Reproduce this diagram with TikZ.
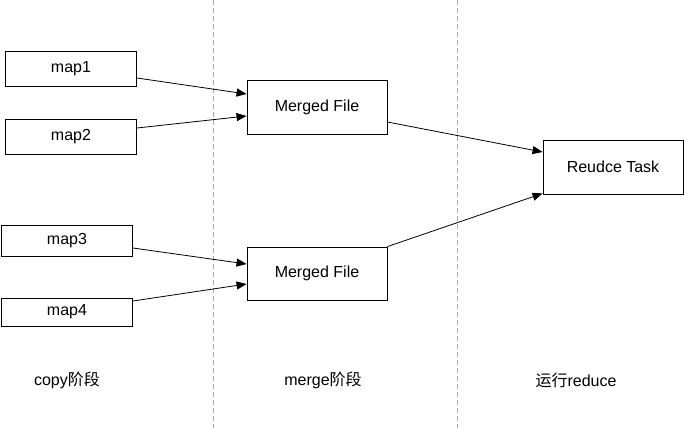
\documentclass[tikz,border=0pt]{standalone}
\usepackage{fontspec}
\setmainfont{Liberation Sans}
\newfontfamily\cjk{Noto Sans CJK SC}
\usetikzlibrary{arrows.meta}
\begin{document}
\begin{tikzpicture}[x=1pt,y=-1pt,
  box/.style={draw=black,line width=0.9pt,inner sep=0pt,fill=white,font=\fontsize{16}{18}\selectfont},
  conn/.style={draw=black,line width=0.8pt,-{Triangle[length=10pt,width=8pt]}},
  divider/.style={draw=gray!70,line width=0.9pt,dash pattern=on 5pt off 3pt},
  stage/.style={font=\fontsize{16}{18}\selectfont,inner sep=0pt}]
\useasboundingbox (0,0) rectangle (684,428);
\coordinate (d1t) at (213,0); \coordinate (d1b) at (213,428);
\coordinate (d2t) at (457,0); \coordinate (d2b) at (457,428);
\draw[divider] (d1t) -- (d1b);
\draw[divider] (d2t) -- (d2b);
\node[box,minimum width=131pt,minimum height=35pt] (map1) at (71,68.5) {map1};
\node[box,minimum width=131pt,minimum height=35pt] (map2) at (71,136.5) {map2};
\node[box,minimum width=131pt,minimum height=31pt] (map3) at (67,240.5) {map3};
\node[box,minimum width=131pt,minimum height=28pt] (map4) at (67,312) {map4};
\node[box,minimum width=140pt,minimum height=54pt] (mf1) at (317,107) {Merged File};
\node[box,minimum width=140pt,minimum height=53pt] (mf2) at (317,273.5) {Merged File};
\node[box,minimum width=140pt,minimum height=54pt] (rt) at (613,167) {Reudce Task};
\draw[conn] ([yshift=-9.5pt]map1.east) -- ([yshift=13pt]mf1.west);
\draw[conn] ([yshift=8.5pt]map2.east) -- ([yshift=-9pt]mf1.west);
\draw[conn] ([yshift=-7.5pt]map3.east) -- ([yshift=9.5pt]mf2.west);
\draw[conn] ([yshift=11pt]map4.east) -- ([yshift=-10.5pt]mf2.west);
\draw[conn] ([yshift=-15pt]mf1.east) -- ([yshift=15pt]rt.west);
\draw[conn] (mf2.north east) -- ([yshift=1pt]rt.south west);
\node[stage] (s1) at (67,380) {copy{\cjk 阶段}};
\node[stage] (s2) at (323,380) {merge{\cjk 阶段}};
\node[stage] (s3) at (576,380) {{\cjk 运行}reduce};
\end{tikzpicture}
\end{document}
